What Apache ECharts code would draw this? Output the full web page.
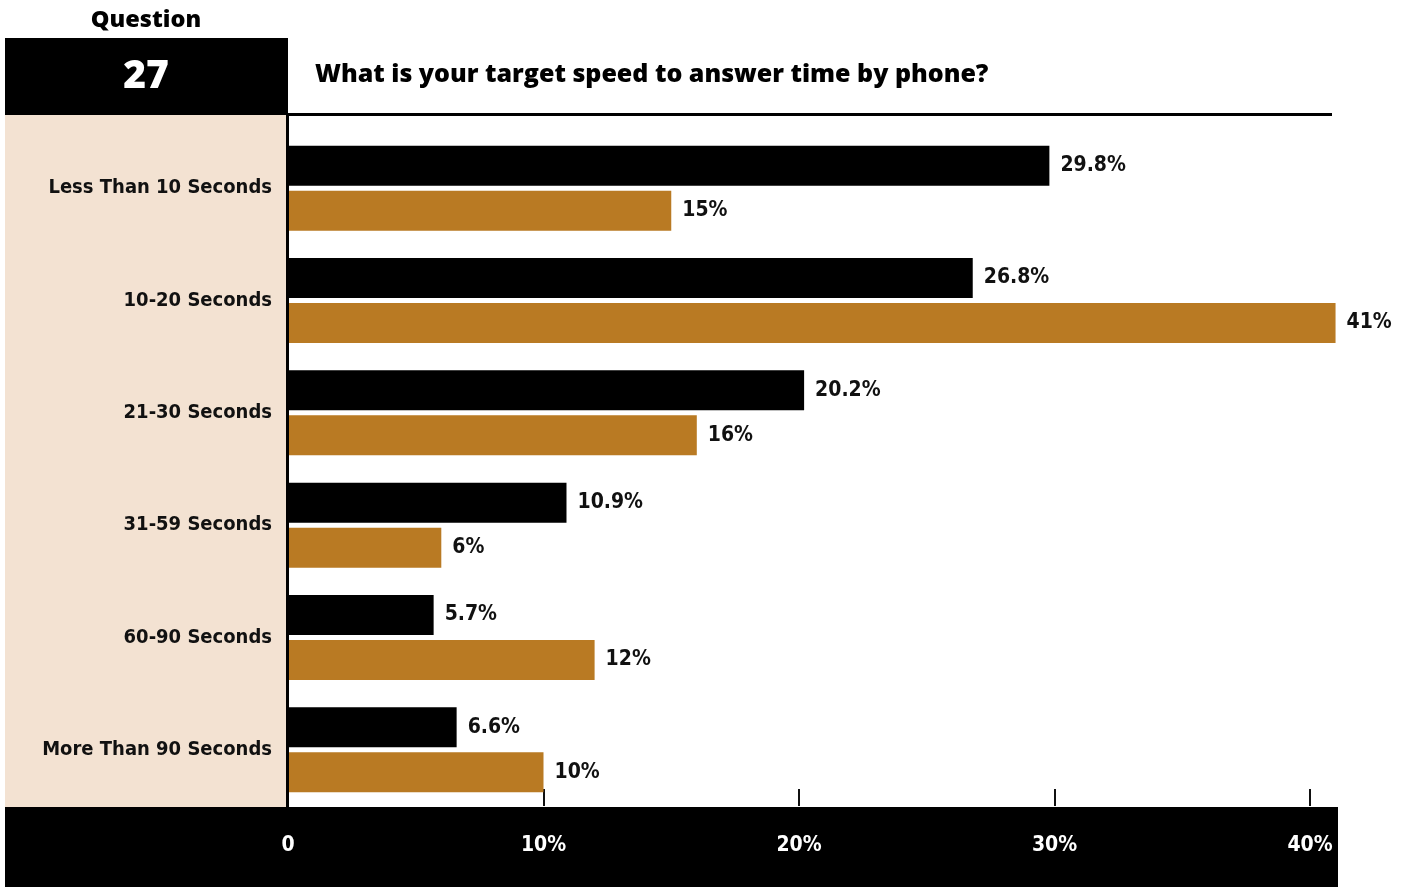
<!DOCTYPE html>
<html>
<head>
<meta charset="utf-8">
<script src="https://cdn.jsdelivr.net/npm/echarts@6/dist/echarts.min.js"></script>
<style>
html,body{margin:0;padding:0;background:#fff;}
#main{width:1407px;height:887px;}
</style>
</head>
<body>
<div id="main"></div>
<script>
const categories = ['Less Than 10 Seconds', '10-20 Seconds', '21-30 Seconds', '31-59 Seconds', '60-90 Seconds', 'More Than 90 Seconds'];
const seriesBlack = [29.8, 26.8, 20.2, 10.9, 5.7, 6.6];
const seriesGold = [15, 41, 16, 6, 12, 10];
const xTicks = [0, 10, 20, 30, 40];
const questionNumber = '27';
const questionText = 'What is your target speed to answer time by phone?';

const narrow = "'Liberation Sans Narrow', 'DejaVu Sans Condensed', sans-serif";
const geo = "'Open Sans', 'Noto Sans', sans-serif";

const chart = echarts.init(document.getElementById('main'), null, {renderer: 'canvas'});

const labelStyle = {
  show: true,
  position: 'right',
  distance: 11,
  color: '#111',
  fontFamily: narrow,
  fontWeight: 'bold',
  fontSize: 21,
  formatter: p => p.value + '%'
};

chart.setOption({
  animation: false,
  backgroundColor: '#fff',
  graphic: [
    {type: 'rect', shape: {x: 5, y: 115, width: 283, height: 692}, style: {fill: '#F3E2D2'}, z: -10},
    {type: 'rect', shape: {x: 5, y: 38, width: 283, height: 77}, style: {fill: '#000'}, z: 0},
    {type: 'rect', shape: {x: 5, y: 807, width: 1333, height: 80}, style: {fill: '#000'}, z: -5},
    {type: 'rect', shape: {x: 286, y: 113, width: 1046, height: 3}, style: {fill: '#000'}, z: 10},
    {type: 'rect', shape: {x: 286, y: 113, width: 3, height: 694}, style: {fill: '#000'}, z: 10},
    {type: 'text', x: 146, y: 20, style: {text: 'Question', fill: '#000', font: '800 23.5px ' + geo, textAlign: 'center', textVerticalAlign: 'middle'}},
    {type: 'text', x: 146, y: 77, style: {text: questionNumber, fill: '#fff', font: '800 39px ' + geo, textAlign: 'center', textVerticalAlign: 'middle'}, z: 5},
    {type: 'text', x: 315, y: 75, style: {text: questionText, fill: '#000', font: '800 25px ' + geo, textAlign: 'left', textVerticalAlign: 'middle'}}
  ],
  grid: {left: 288, right: 97, top: 132, bottom: 81, containLabel: false, outerBoundsMode: 'none'},
  xAxis: {
    type: 'value',
    min: 0,
    max: 40,
    interval: 10,
    axisLine: {show: false},
    axisTick: {show: true, inside: true, length: 17, lineStyle: {color: '#111', width: 2}},
    splitLine: {show: false},
    axisLabel: {
      margin: 29,
      color: '#fff',
      fontFamily: narrow,
      fontWeight: 'bold',
      fontSize: 21,
      formatter: v => v === 0 ? '0' : v + '%'
    }
  },
  yAxis: {
    type: 'category',
    data: categories,
    inverse: true,
    axisLine: {show: false},
    axisTick: {show: false},
    axisLabel: {
      margin: 16,
      color: '#111',
      fontFamily: narrow,
      fontWeight: 'bold',
      fontSize: 20
    }
  },
  series: [
    {
      type: 'bar',
      data: seriesBlack,
      barWidth: 40,
      barGap: '12.5%',
      clip: false,
      itemStyle: {color: '#000'},
      label: labelStyle
    },
    {
      type: 'bar',
      data: seriesGold,
      barWidth: 40,
      barGap: '12.5%',
      clip: false,
      itemStyle: {color: '#B97A23'},
      label: labelStyle
    }
  ]
});
</script>
</body>
</html>
